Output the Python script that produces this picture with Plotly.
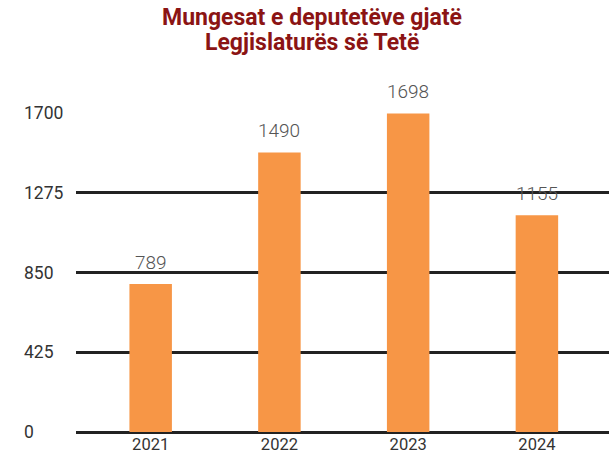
import plotly.graph_objects as go

years = ["2021", "2022", "2023", "2024"]
absences = [789, 1490, 1698, 1155]
y_ticks = [0, 425, 850, 1275, 1700]
title_lines = ["Mungesat e deputetëve gjatë", "Legjislaturës së Tetë"]

W, H = 609, 460
M_L, M_R, M_T, M_B = 76, 0, 113, 28
plot_w = W - M_L - M_R
plot_h = H - M_T - M_B

fig = go.Figure()
fig.add_trace(go.Bar(
    x=years, y=absences,
    marker=dict(color="#F79646", line=dict(width=0)),
    width=0.33,
))

# value labels above bars
for i, v in enumerate(absences):
    fig.add_annotation(
        x=i, y=v, xref="x", yref="y", text=str(v),
        showarrow=False, yanchor="bottom", yshift=8,
        font=dict(family="Roboto Light, Roboto", size=19, color="#555555"),
    )

# left-aligned y tick labels
for t in y_ticks:
    fig.add_annotation(
        x=(22 - M_L) / plot_w, xref="paper", y=t, yref="y",
        xanchor="left", yanchor="middle", text=str(t), showarrow=False,
        font=dict(family="Roboto", size=17.5, color="#333333"),
    )

# title lines
for i, line in enumerate(title_lines):
    py = H - 18 - 25 * i
    fig.add_annotation(
        x=(312 - M_L) / plot_w, xref="paper", y=(py - M_B) / plot_h, yref="paper",
        yanchor="middle", text=f"<b>{line}</b>", showarrow=False,
        font=dict(family="Roboto", size=23, color="#8B1414"),
    )

fig.update_layout(
    width=W, height=H,
    margin=dict(l=M_L, r=M_R, t=M_T, b=M_B),
    paper_bgcolor="white", plot_bgcolor="white",
    showlegend=False,
    xaxis=dict(
        type="category", range=[-0.58, 3.56],
        showgrid=False, showline=False, ticks="",
        tickfont=dict(family="Roboto", size=16.5, color="#333333"),
    ),
    yaxis=dict(
        range=[0, 1700], tickvals=y_ticks, showticklabels=False,
        showgrid=True, gridcolor="#222222", gridwidth=2.5,
        zeroline=True, zerolinecolor="#222222", zerolinewidth=3,
        showline=False, ticks="",
    ),
)

fig.write_html("out.html")
